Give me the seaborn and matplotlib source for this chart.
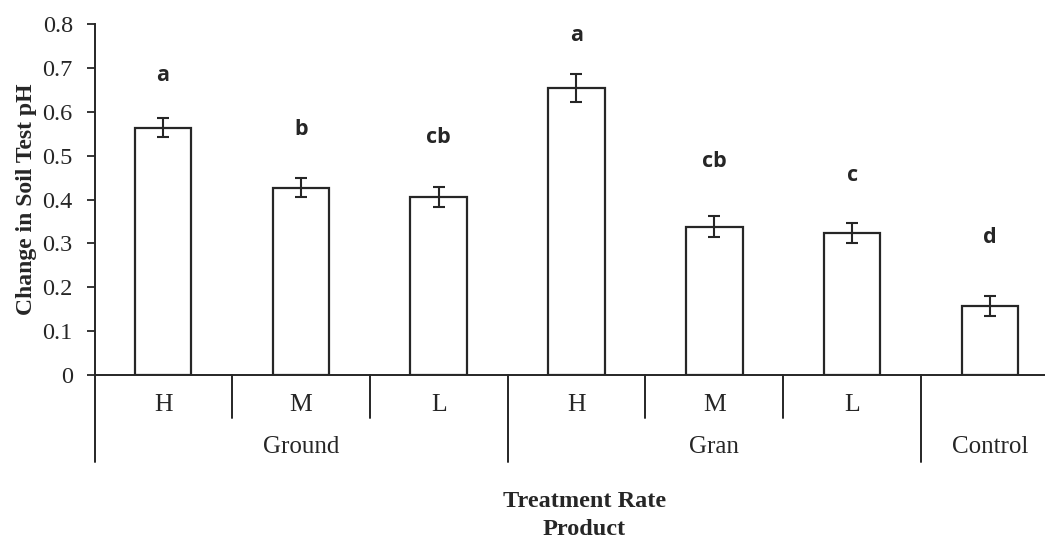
import matplotlib
matplotlib.use("Agg")
import matplotlib.pyplot as plt
import matplotlib.transforms as mtransforms
import seaborn as sns
import pandas as pd

# ---- data ----
products = ["Ground", "Ground", "Ground", "Gran", "Gran", "Gran", "Control"]
rates = ["H", "M", "L", "H", "M", "L", ""]
values = [0.564, 0.427, 0.406, 0.655, 0.338, 0.324, 0.157]
errors = [0.021, 0.022, 0.022, 0.032, 0.024, 0.023, 0.022]
letters = ["a", "b", "cb", "a", "cb", "c", "d"]
letter_offsets = [0.12, 0.132, 0.135, 0.12, 0.148, 0.132, 0.157]
group_names = ["Ground", "Gran", "Control"]
yticks = [0, 0.1, 0.2, 0.3, 0.4, 0.5, 0.6, 0.7, 0.8]

sns.set_theme(style="white")
plt.rcParams["font.family"] = ["Liberation Serif", "DejaVu Serif"]

keys = [f"{p} {r}".strip() for p, r in zip(products, rates)]
df = pd.DataFrame({"key": keys, "value": values})

fig = plt.figure(figsize=(10.45, 5.38), dpi=100)
ax = fig.add_axes([0.0909, 0.303, 0.9091, 0.652])

ink = "#262626"
sns.barplot(data=df, x="key", y="value", order=keys, color="white",
            edgecolor=ink, linewidth=1.6, width=0.41, errorbar=None, ax=ax)
xs = list(range(len(keys)))
ax.errorbar(xs, values, yerr=errors, fmt="none", ecolor=ink,
            elinewidth=1.5, capsize=4, capthick=1.5, zorder=5)

for x, v, lt, off in zip(xs, values, letters, letter_offsets):
    ax.text(x, v + off, lt, ha="center", va="center", fontsize=15.5,
            family=["Open Sans", "DejaVu Sans"], fontweight="bold", color=ink)

ax.set_xlim(-0.494, 6.4)
ax.set_ylim(0, 0.8)
ax.set_yticks(yticks)
ax.set_yticklabels([f"{t:g}" for t in yticks], fontsize=17.5, color=ink)
ax.tick_params(axis="y", direction="out", length=6, width=1.3, color=ink, pad=10, left=True)
ax.tick_params(axis="x", bottom=False, labelbottom=False)
for s in ["top", "right"]:
    ax.spines[s].set_visible(False)
for s in ["left", "bottom"]:
    ax.spines[s].set_color(ink)
    ax.spines[s].set_linewidth(1.4)

ax.set_xlabel("")
ax.set_ylabel("Change in Soil Test pH", fontsize=17, fontweight="bold", color=ink, labelpad=4)

trans = mtransforms.blended_transform_factory(ax.transData, ax.transAxes)
# rate labels and separators
for i, r in enumerate(rates):
    if r:
        ax.text(i, -0.0855, r, transform=trans, ha="center", va="center",
                fontsize=18.5, color=ink)
for i in range(1, len(keys)):
    same_group = products[i] == products[i - 1]
    y1 = -0.1225 if same_group else -0.248
    ax.plot([i - 0.5, i - 0.5], [0, y1], transform=trans, color=ink,
            lw=1.4, clip_on=False)
ax.plot([-0.494, -0.494], [0, -0.248], transform=trans, color=ink, lw=1.4, clip_on=False)

# group labels
for g in group_names:
    idx = [i for i, p in enumerate(products) if p == g]
    ax.text(sum(idx) / len(idx), -0.205, g, transform=trans, ha="center",
            va="center", fontsize=18, color=ink)

ax.text(0.515, -0.36, "Treatment Rate", transform=ax.transAxes, ha="center",
        va="center", fontsize=17.5, fontweight="bold", color=ink)
ax.text(0.515, -0.44, "Product", transform=ax.transAxes, ha="center",
        va="center", fontsize=17.5, fontweight="bold", color=ink)

fig.savefig("out.png", dpi=100, facecolor="white")
